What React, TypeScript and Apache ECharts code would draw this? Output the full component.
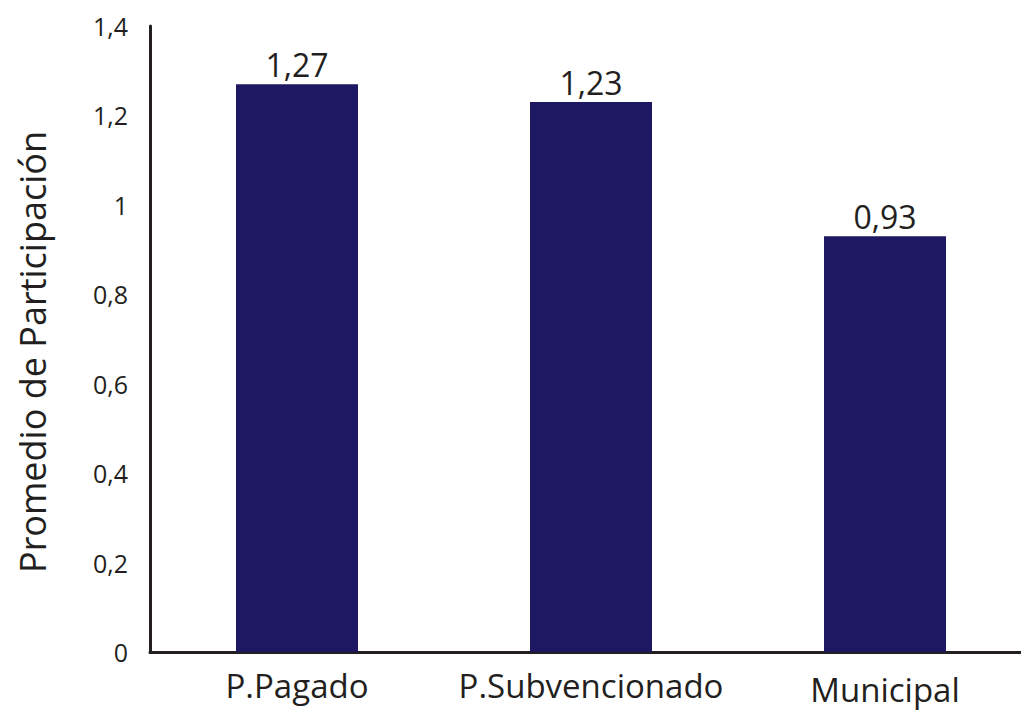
import React, { useEffect, useRef } from "react";
import * as echarts from "echarts";

// Average participation by school type
const categories = ["P.Pagado", "P.Subvencionado", "Municipal"];
const values = [1.27, 1.23, 0.93];
const yTicks = [0, 0.2, 0.4, 0.6, 0.8, 1, 1.2, 1.4];

const FONT = "'Open Sans', 'Noto Sans', sans-serif";
const INK = "#231f20";
const BAR = "#1e1762";

const fmt = (v: number) => String(v).replace(".", ",");

export default function App() {
  const ref = useRef<HTMLDivElement>(null);

  useEffect(() => {
    document.body.style.margin = "0";
    if (!ref.current) return;
    const chart = echarts.init(ref.current, undefined, { renderer: "svg" });
    chart.setOption({
      animation: false,
      backgroundColor: "#ffffff",
      // the x axis runs past the right edge of the visible frame
      grid: { left: 150, top: 26, width: 882, height: 626 },
      xAxis: {
        type: "category",
        data: categories.map((c) =>
          c === "Municipal"
            ? { value: c, textStyle: { padding: [4, 0, 0, 0] } }
            : c
        ),
        axisLine: { lineStyle: { color: INK, width: 3 } },
        axisTick: { show: false },
        axisLabel: {
          interval: 0,
          color: INK,
          fontFamily: FONT,
          fontSize: 33,
          lineHeight: 33,
          margin: 17,
        },
      },
      yAxis: {
        type: "value",
        min: yTicks[0],
        max: yTicks[yTicks.length - 1],
        interval: 0.2,
        name: "Promedio de Participación",
        nameLocation: "middle",
        nameRotate: 90,
        nameGap: 100,
        nameTextStyle: {
          color: INK,
          fontFamily: FONT,
          fontSize: 36,
          padding: [0, 26, 0, 0],
        },
        axisLine: { show: true, lineStyle: { color: INK, width: 3 } },
        axisTick: { show: false },
        splitLine: { show: false },
        axisLabel: {
          color: INK,
          fontFamily: FONT,
          fontSize: 25,
          margin: 22,
          formatter: (v: number) => fmt(Math.round(v * 10) / 10),
        },
      },
      series: [
        {
          type: "bar",
          data: values,
          barWidth: 122,
          itemStyle: { color: BAR },
          label: {
            show: true,
            position: "top",
            distance: 4,
            color: INK,
            fontFamily: FONT,
            fontSize: 32,
            formatter: (p: any) => fmt(p.value),
          },
        },
      ],
    });
    return () => chart.dispose();
  }, []);

  return (
    <div style={{ width: 1021, height: 711, overflow: "hidden" }}>
      <div ref={ref} style={{ width: 1040, height: 711 }} />
    </div>
  );
}
